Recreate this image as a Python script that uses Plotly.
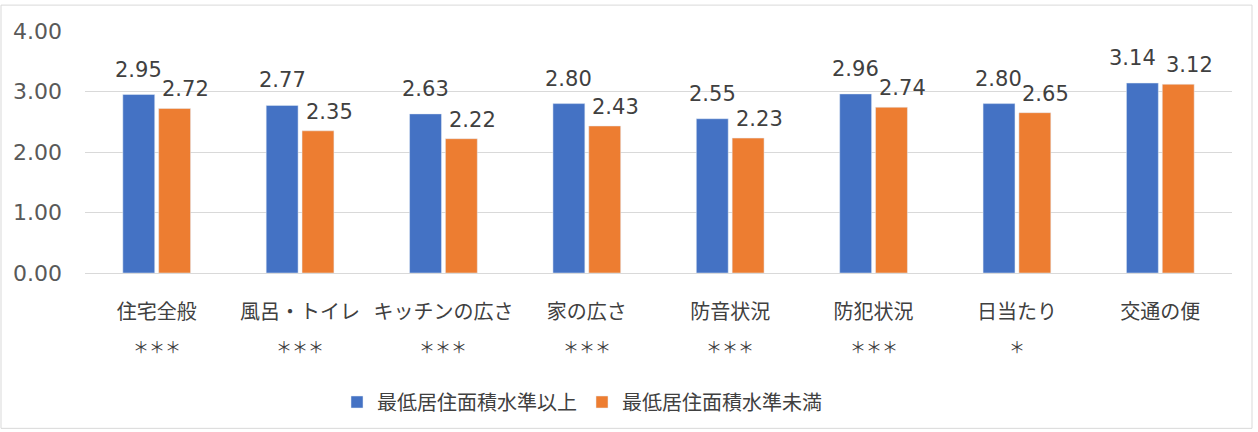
import plotly.graph_objects as go

categories = ["住宅全般", "風呂・トイレ", "キッチンの広さ", "家の広さ", "防音状況", "防犯状況", "日当たり", "交通の便"]
significance = ["＊＊＊", "＊＊＊", "＊＊＊", "＊＊＊", "＊＊＊", "＊＊＊", "＊", ""]
series_names = ["最低居住面積水準以上", "最低居住面積水準未満"]
above_values = [2.95, 2.77, 2.63, 2.80, 2.55, 2.96, 2.80, 3.14]
below_values = [2.72, 2.35, 2.22, 2.43, 2.23, 2.74, 2.65, 3.12]
y_ticks = [0, 1, 2, 3, 4]

num_font = "DejaVu Sans, Noto Sans CJK JP"
jp_font = "Noto Sans CJK JP, DejaVu Sans"
colors = ["#4472C4", "#ED7D31"]

W, H = 1258, 432
ML, MR, MT, MB = 85, 26, 31, 158
PW, PH = W - ML - MR, H - MT - MB

fig = go.Figure()
for name, vals, col in zip(series_names, [above_values, below_values], colors):
    fig.add_trace(go.Bar(x=categories, y=vals, name=name, marker_color=col))

# data labels: blue over its bar, orange nudged right so close pairs stay readable
for c, a, b in zip(categories, above_values, below_values):
    close = abs(a - b) < 0.1
    fig.add_annotation(x=c, y=a, xref="x", yref="y", text=f"{a:.2f}",
                       showarrow=False, xshift=-18 - (10 if close else 0), yshift=25,
                       yanchor="middle",
                       font=dict(family=num_font, size=21, color="#404040"))
    fig.add_annotation(x=c, y=b, xref="x", yref="y", text=f"{b:.2f}",
                       showarrow=False, xshift=29, yshift=19, yanchor="middle",
                       font=dict(family=num_font, size=21, color="#404040"))

# significance marks below category labels
for c, s in zip(categories, significance):
    if s:
        fig.add_annotation(x=c, y=-(347 - (H - MB)) / PH, xref="x", yref="paper",
                           text=s, showarrow=False, yanchor="middle",
                           font=dict(family=jp_font, size=16, color="#404040"))

fig.update_layout(
    width=W, height=H,
    margin=dict(l=ML, r=MR, t=MT, b=MB),
    paper_bgcolor="white", plot_bgcolor="white",
    barmode="group", bargap=0.5, bargroupgap=0.11,
    showlegend=True,
    legend=dict(orientation="h", x=(582 - ML) / PW, xanchor="center", xref="paper",
                y=-(402 - (H - MB)) / PH, yanchor="middle",
                font=dict(family=jp_font, size=20, color="#404040"),
                itemwidth=30, tracegroupgap=0),
    xaxis=dict(tickfont=dict(family=jp_font, size=20, color="#404040"),
               showline=False, ticks="", showgrid=False, ticklabelstandoff=25),
    yaxis=dict(range=[0, 4], tickvals=y_ticks,
               ticktext=[f"{v:.2f}" for v in y_ticks],
               tickfont=dict(family=num_font, size=22, color="#595959"),
               showgrid=True, gridcolor="#D9D9D9", gridwidth=1,
               zeroline=True, zerolinecolor="#D9D9D9", zerolinewidth=1,
               ticks="", ticklabelstandoff=22),
)

fig.add_shape(type="rect", xref="paper", yref="paper",
              x0=-(ML - 1) / PW, x1=(1252 - ML) / PW, y0=-(430 - (H - MB)) / PH, y1=((H - MB) - 5) / PH,
              line=dict(color="#D9D9D9", width=1), fillcolor="rgba(0,0,0,0)", layer="below")

fig.write_html("out.html")
